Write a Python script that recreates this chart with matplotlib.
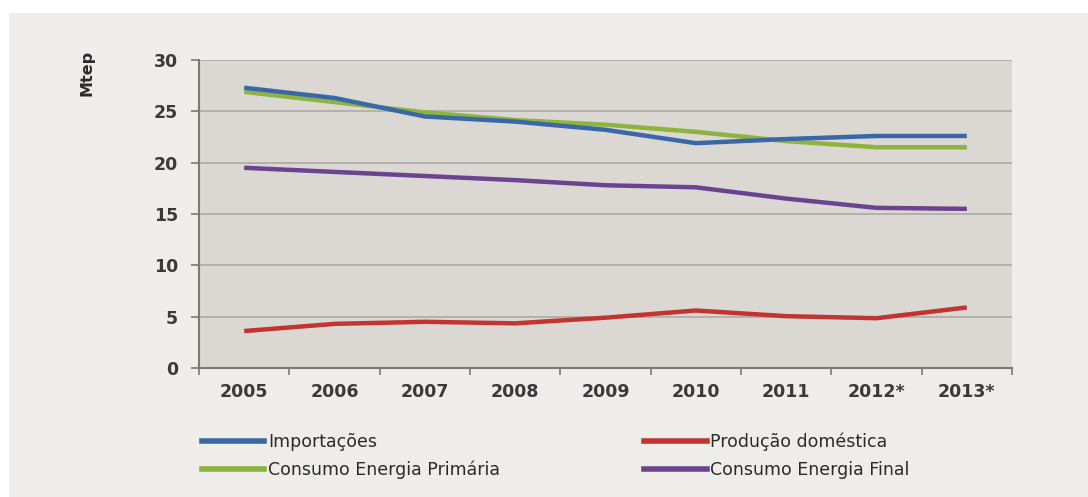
import matplotlib
matplotlib.use("Agg")
import matplotlib.pyplot as plt
from matplotlib.patches import Rectangle
from matplotlib.lines import Line2D
import numpy as np

years = ["2005", "2006", "2007", "2008", "2009", "2010", "2011", "2012*", "2013*"]
importacoes = [27.3, 26.3, 24.5, 24.0, 23.2, 21.9, 22.3, 22.6, 22.6]
producao = [3.6, 4.3, 4.5, 4.35, 4.9, 5.6, 5.05, 4.85, 5.9]
consumo_primaria = [26.9, 25.9, 24.9, 24.15, 23.7, 23.0, 22.1, 21.5, 21.5]
consumo_final = [19.5, 19.1, 18.7, 18.3, 17.8, 17.6, 16.5, 15.6, 15.5]

labels = ["Importações", "Produção doméstica", "Consumo Energia Primária", "Consumo Energia Final"]
colors = ["#3a68a6", "#c23430", "#8db43c", "#6b4490"]

fig = plt.figure(figsize=(10.88, 4.97), dpi=100)
fig.patch.set_facecolor("white")
fig.add_artist(Rectangle((9/1088, 0), 1 - 9/1088, 1 - 13/497, transform=fig.transFigure,
                         facecolor="#efedea", edgecolor="none", zorder=-10))

ax = fig.add_axes([199/1088, 1 - 368/497, (1012-199)/1088, (368-60)/497])
ax.set_facecolor("#dbd7d3")
x = np.arange(len(years))
series = [importacoes, producao, consumo_primaria, consumo_final]
z = {0: 4, 2: 3, 3: 3, 1: 3}
for i in [1, 3, 2, 0]:
    ax.plot(x, series[i], color=colors[i], lw=3.2, solid_capstyle="butt", zorder=z[i])

ax.set_xlim(-0.5, len(years) - 0.5)
ax.set_ylim(0, 30)
ax.set_yticks(range(0, 31, 5))
ax.set_xticks(x)
ax.set_xticklabels(years)
ax.set_xticks(np.arange(-0.5, len(years), 1), minor=True)
ax.tick_params(axis="x", which="major", length=0, pad=11)
ax.tick_params(axis="x", which="minor", length=5, color="#7d7874", width=1.2)
ax.tick_params(axis="y", length=6, color="#7d7874", width=1.2, pad=9)
for lab in ax.get_xticklabels() + ax.get_yticklabels():
    lab.set_fontsize(12.5)
    lab.set_fontweight("bold")
    lab.set_color("#3a3a3a")
ax.grid(axis="y", color="#a9a5a1", lw=1.1)
ax.set_axisbelow(True)
for s in ["top", "right"]:
    ax.spines[s].set_visible(False)
for s in ["left", "bottom"]:
    ax.spines[s].set_color("#7d7874")
    ax.spines[s].set_linewidth(1.5)

fig.text(87/1088, 1 - 73/497, "Mtep", rotation=90, ha="center", va="center",
         fontsize=11.5, fontweight="semibold", color="#2a2a2a")

handles = [Line2D([], [], color=colors[i], lw=4) for i in range(4)]
leg = fig.legend([handles[0], handles[2], handles[1], handles[3]],
                 [labels[0], labels[2], labels[1], labels[3]],
                 ncol=2, loc="upper left", bbox_to_anchor=(195/1088, 1 - 426/497),
                 frameon=False, fontsize=12.5, handlelength=3.6, handletextpad=0.2,
                 columnspacing=8.3, labelspacing=0.55, borderaxespad=0)
for t in leg.get_texts():
    t.set_color("#2a2a2a")

fig.savefig("out.png", dpi=100, facecolor=fig.get_facecolor())
